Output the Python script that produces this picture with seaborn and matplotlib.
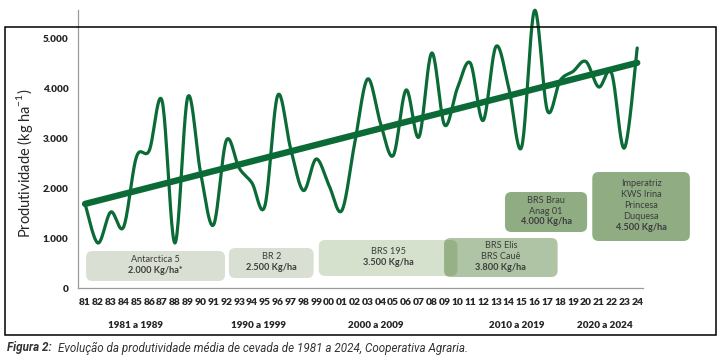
import numpy as np
import pandas as pd
import seaborn as sns
import matplotlib.pyplot as plt
from matplotlib.patches import FancyBboxPatch, Rectangle

# yield per season (kg/ha), 1981 to 2024
years = ['81', '82', '83', '84', '85', '86', '87', '88', '89', '90', '91', '92',
         '93', '94', '95', '96', '97', '98', '99', '00', '01', '02', '03', '04',
         '05', '06', '07', '08', '09', '10', '11', '12', '13', '14', '15', '16',
         '17', '18', '19', '20', '21', '22', '23', '24']
yields = [1680, 900, 1520, 1220, 2620, 2750, 3740, 900, 3820, 2300, 1260, 2950,
          2400, 2100, 1640, 3850, 2800, 1950, 2580, 2050, 1550, 2900, 4180, 3300,
          2650, 3960, 3020, 4700, 3260, 4000, 4500, 3350, 4830, 4000, 2820, 5550,
          3550, 4150, 4330, 4530, 4020, 4300, 2800, 4800]

decades = ['1981 a 1989', '1990 a 1999', '2000 a 2009', '2010 a 2019', '2020 a 2024']
decade_pos = [3.9, 13.5, 22.6, 33.6, 40.5]

varieties = [['Antarctica 5'], ['BR 2'], ['BRS 195'], ['BRS Elis', 'BRS Cauê'],
             ['BRS Brau', 'Anag 01'], ['Imperatriz', 'KWS Irina', 'Princesa', 'Duquesa']]
variety_yield = ['2.000 Kg/ha*', '2.500 Kg/ha', '3.500 Kg/ha', '3.800 Kg/ha',
                 '4.000 Kg/ha', '4.500 Kg/ha']

# box geometry (x0, x1 in year index, y0, y1 in kg/ha), colours
boxes = [(0.08, 10.9, 140, 740), (11.2, 17.8, 200, 800), (18.2, 29.0, 240, 960),
         (27.96, 36.8, 220, 1000), (32.7, 39.1, 1120, 1920), (39.5, 47.1, 940, 2320)]
box_colors = ['#d9dfd3', '#d9dfd3', '#d5e1cd', '#2f6410', '#8fac83', '#8fac83']
box_alpha = [1, 1, 1, 0.38, 1, 1]

green = '#0b6b36'
df = pd.DataFrame({'i': np.arange(len(years)), 'y': yields})

# smoothed line like a spreadsheet "smooth line" (cubic bezier / catmull-rom)
P = np.column_stack([df['i'], df['y']]).astype(float)
Pe = np.vstack([P[0], P, P[-1]])
t = np.linspace(0, 1, 25)[:, None]
seg = []
for k in range(1, len(Pe) - 2):
    p0, p1, p2, p3 = Pe[k - 1], Pe[k], Pe[k + 1], Pe[k + 2]
    c1 = p1 + (p2 - p0) / 6
    c2 = p2 - (p3 - p1) / 6
    seg.append((1 - t) ** 3 * p1 + 3 * (1 - t) ** 2 * t * c1 + 3 * (1 - t) * t ** 2 * c2 + t ** 3 * p2)
smooth = pd.DataFrame(np.vstack(seg), columns=['i', 'y'])

sns.set_style('white')
plt.rcParams['font.family'] = ['Lato', 'DejaVu Sans']

fig = plt.figure(figsize=(7.26, 3.62), dpi=100)
ax = fig.add_axes([78 / 726, 74 / 362, 565 / 726, 278 / 362])
xmin, xmax, ymax = -0.55, 43.45, 5560
ax.set_xlim(xmin, xmax)
ax.set_ylim(0, ymax)

sns.lineplot(data=smooth, x='i', y='y', sort=False, estimator=None,
             color=green, linewidth=2.3, ax=ax, zorder=4, clip_on=False)
sns.regplot(data=df, x='i', y='y', scatter=False, ci=None, ax=ax,
            line_kws={'color': green, 'linewidth': 4.6, 'solid_capstyle': 'round', 'zorder': 5})

# variety boxes
aspect = (565 / (xmax - xmin)) / (278 / ymax)
for (x0, x1, y0, y1), col, a, names, val in zip(boxes, box_colors, box_alpha, varieties, variety_yield):
    ax.add_patch(FancyBboxPatch((x0, y0), x1 - x0, y1 - y0,
                                boxstyle='round,pad=0,rounding_size=0.5',
                                mutation_aspect=aspect, fc=col, ec='none', alpha=a,
                                clip_on=False, zorder=2))
    lines = names + [val]
    step = 215
    ymid = (y0 + y1) / 2 + 20
    top = ymid + step * (len(lines) - 1) / 2
    for j, s in enumerate(lines):
        ax.text((x0 + x1) / 2, top - j * step, s, ha='center', va='center',
                fontsize=6.6, color='#3c3c3c', clip_on=False, zorder=3,
                fontweight='bold' if j == len(lines) - 1 else 'normal')

ax.set_xticks(df['i'])
ax.set_xticklabels(years, fontweight='heavy', fontsize=7.4)
ax.set_yticks([0, 1000, 2000, 3000, 4000, 5000])
ax.set_yticklabels(['0', '1.000', '2.000', '3.000', '4.000', '5.000'],
                   fontweight='heavy', fontsize=7.2)
ax.tick_params(axis='x', direction='inout', length=5, width=0.8, color='#9a9a9a', pad=5)
ax.tick_params(axis='y', direction='out', length=4, width=0.8, color='#9a9a9a', pad=3)
ax.set_xlabel('')
ax.set_ylabel('')
sns.despine(ax=ax)
for s in ['left', 'bottom']:
    ax.spines[s].set_color('#9a9a9a')
    ax.spines[s].set_linewidth(0.9)

for lab, x in zip(decades, decade_pos):
    ax.text(x, -740, lab, ha='center', va='center', fontsize=7.1,
            fontweight='heavy', clip_on=False)

fig.text(25 / 726, 0.55, 'Produtividade (kg ha$^{\\mathregular{-1}}$)', rotation=90,
         ha='center', va='center', fontsize=10.5)

fig.patches.append(Rectangle((5 / 726, 27 / 362), 711 / 726, 308 / 362,
                             transform=fig.transFigure, fill=False, ec='black', lw=1.1))

fig.text(7 / 726, 14 / 362, 'Figura 2:', fontsize=8.4, style='italic', fontweight='bold',
         family='Roboto', color='#333333', va='center')
fig.text(58 / 726, 14 / 362, 'Evolução da produtividade média de cevada de 1981 a 2024, Cooperativa Agraria.',
         fontsize=8.4, style='italic', family='Roboto', color='#333333', va='center')

plt.savefig('out.png', dpi=100)
plt.close()
